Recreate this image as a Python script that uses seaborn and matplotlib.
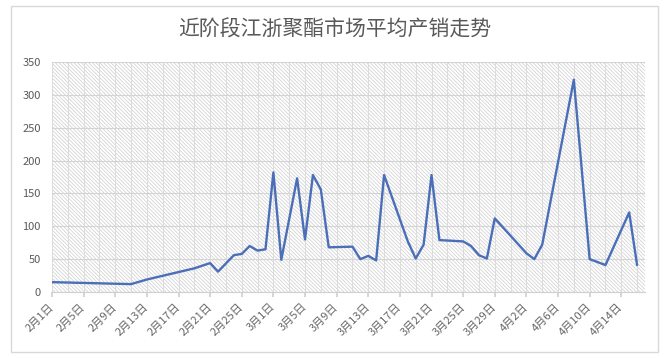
import matplotlib
matplotlib.use("Agg")
import matplotlib.pyplot as plt
import matplotlib.patches as mpatches
import matplotlib.ticker as mticker
import seaborn as sns
import pandas as pd

title = "近阶段江浙聚酯市场平均产销走势"

dates = ["2018-02-01", "2018-02-11", "2018-02-13", "2018-02-19", "2018-02-21",
         "2018-02-22", "2018-02-24", "2018-02-25", "2018-02-26", "2018-02-27",
         "2018-02-28", "2018-03-01", "2018-03-02", "2018-03-04", "2018-03-05",
         "2018-03-06", "2018-03-07", "2018-03-08", "2018-03-11", "2018-03-12",
         "2018-03-13", "2018-03-14", "2018-03-15", "2018-03-18", "2018-03-19",
         "2018-03-20", "2018-03-21", "2018-03-22", "2018-03-25", "2018-03-26",
         "2018-03-27", "2018-03-28", "2018-03-29", "2018-04-02", "2018-04-03",
         "2018-04-04", "2018-04-08", "2018-04-10", "2018-04-12", "2018-04-15",
         "2018-04-16"]
values = [15, 12, 19, 36, 44,
          31, 56, 58, 70, 63,
          65, 182, 49, 173, 80,
          178, 156, 68, 69, 50,
          55, 48, 178, 77, 51,
          72, 178, 79, 77, 70,
          56, 51, 112, 59, 50,
          72, 323, 50, 41, 121,
          41]

tick_dates = ["2018-02-01", "2018-02-05", "2018-02-09", "2018-02-13", "2018-02-17",
              "2018-02-21", "2018-02-25", "2018-03-01", "2018-03-05", "2018-03-09",
              "2018-03-13", "2018-03-17", "2018-03-21", "2018-03-25", "2018-03-29",
              "2018-04-02", "2018-04-06", "2018-04-10", "2018-04-14"]
tick_labels = ["2月1日", "2月5日", "2月9日", "2月13日", "2月17日", "2月21日", "2月25日",
               "3月1日", "3月5日", "3月9日", "3月13日", "3月17日", "3月21日", "3月25日",
               "3月29日", "4月2日", "4月6日", "4月10日", "4月14日"]
y_ticks = [0, 50, 100, 150, 200, 250, 300, 350]
x_start, x_end = "2018-02-01", "2018-04-17"

sns.set_theme(style="white")
plt.rcParams["font.family"] = ["Noto Sans CJK SC", "DejaVu Sans"]
plt.rcParams["hatch.linewidth"] = 0.5

df = pd.DataFrame({"date": pd.to_datetime(dates), "value": values})

fig = plt.figure(figsize=(6.65, 3.58), dpi=100)
ax = fig.add_axes([52 / 665, 1 - 292 / 358, (645 - 52) / 665, (292 - 62) / 358])

# outer chart border
fig.patches.append(mpatches.Rectangle((11 / 665, 6 / 358), (658 - 11) / 665, (352 - 6) / 358,
                                      transform=fig.transFigure, facecolor="none",
                                      edgecolor="#d9d9d9", lw=1.0, zorder=0))

# hatched plot background
ax.add_patch(mpatches.Rectangle((0, 0), 1, 1, transform=ax.transAxes, facecolor="white",
                                edgecolor="#cccccc", hatch="\\" * 9, lw=0, zorder=0))

sns.lineplot(data=df, x="date", y="value", ax=ax, color="#4a6fb8", linewidth=1.7, zorder=3)

ax.set_xlim(pd.Timestamp(x_start), pd.Timestamp(x_end))
ax.set_ylim(0, 350)
ax.set_yticks(y_ticks)
ax.set_yticklabels([str(v) for v in y_ticks], fontsize=8, color="#595959")

tick_pos = pd.to_datetime(tick_dates)
ax.set_xticks(tick_pos)
ax.set_xticklabels(tick_labels, rotation=45, ha="right", va="center",
                   rotation_mode="anchor", fontsize=8, color="#666666")
minor_pos = tick_pos + pd.Timedelta(days=2)
ax.xaxis.set_minor_locator(mticker.FixedLocator(matplotlib.dates.date2num(minor_pos)))

ax.set_xlabel("")
ax.set_ylabel("")
ax.set_axisbelow(True)
ax.grid(True, which="both", axis="x", color="#dcdcdc", lw=0.7)
ax.grid(True, which="major", axis="y", color="#d4d4d4", lw=0.8)

for s in ["top", "right", "left"]:
    ax.spines[s].set_visible(False)
ax.spines["bottom"].set_color("#d0d0d0")
ax.spines["bottom"].set_linewidth(0.8)
ax.tick_params(axis="x", which="major", length=3.5, color="#d0d0d0", pad=6, bottom=True)
ax.tick_params(axis="x", which="minor", length=0)
ax.tick_params(axis="y", length=0, pad=8)

fig.text(0.504, 1 - 30 / 358, title, ha="center", va="center", fontsize=15, color="#595959")

fig.savefig("out.png", dpi=100)
